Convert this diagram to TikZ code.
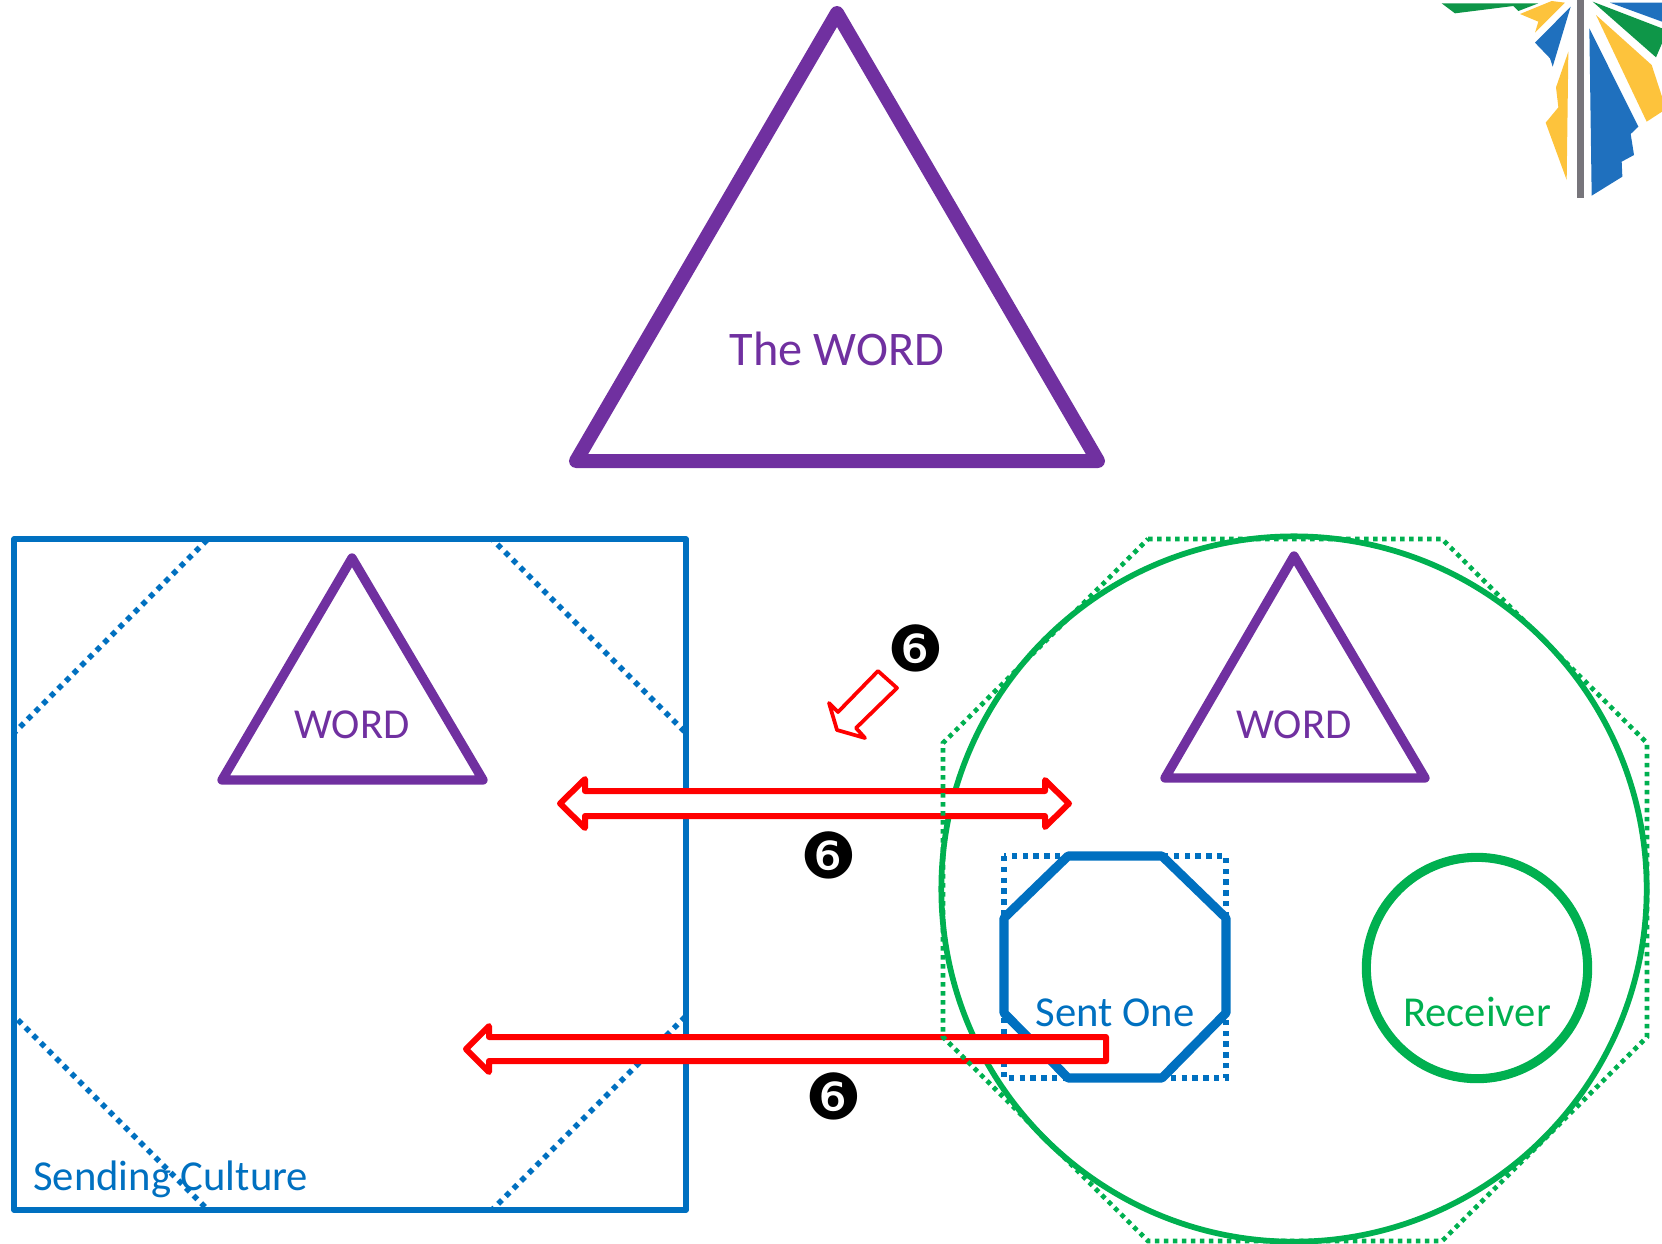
\documentclass[tikz,border=0pt]{standalone}
\usepackage{fontspec}
\setmainfont{Carlito}
\newfontfamily\dingfont{DejaVu Sans}
\definecolor{wpurple}{HTML}{7030A0}
\definecolor{wblue}{HTML}{0070C0}
\definecolor{wgreen}{HTML}{00B050}
\definecolor{wred}{HTML}{FF0000}
\definecolor{lgreen}{HTML}{0E9648}
\definecolor{lyellow}{HTML}{FDC33C}
\definecolor{lblue}{HTML}{1F70BE}
\definecolor{lgray}{HTML}{77757B}
\tikzset{
  trilarge/.style={draw=wpurple,line width=10.5pt,line join=round},
  trismall/.style={draw=wpurple,line width=7pt,line join=round},
  bluesolid/.style={draw=wblue,line width=4.3pt,line join=round},
  bluedots/.style={draw=wblue,line width=4.2pt,dash pattern=on 4pt off 4.1pt},
  sentoct/.style={draw=wblue,line width=6.8pt,line join=round},
  greensolid/.style={draw=wgreen,line width=4.3pt},
  greendots/.style={draw=wgreen,line width=3.5pt,dash pattern=on 3.4pt off 3.35pt},
  recvcircle/.style={draw=wgreen,line width=6.8pt},
  blockarrow/.style={draw=wred,fill=white,line width=4.5pt,line join=round},
  thinarrow/.style={draw=wred,fill=white,line width=2.8pt,line join=round},
  lbl/.style={inner sep=0pt,anchor=base,font=\fontsize{32pt}{36pt}\selectfont},
  num/.style={inner sep=0pt,text=black,font=\dingfont\fontsize{47.5pt}{47.5pt}\selectfont}
}
\begin{document}
\begin{tikzpicture}[x=.75pt,y=-.75pt]
\useasboundingbox (0,0) rectangle (1662,1243);
% logo
\begin{scope}[shift={(1420,0)},x=.25pt,y=-.25pt]
\fill[lgreen] (65,10)--(105,40)--(280,18)--(295,33)--(355,10)--cycle;
\fill[lyellow] (300,42)--(395,3)--(435,8)--(345,98)--(355,65)--cycle;
\fill[lblue] (452,20)--(398,200)--(390,175)--(345,128)--cycle;
\fill[lyellow] (445,155)--(440,540)--(377,368)--(415,322)--(408,262)--cycle;
\fill[lgray] (472,0) rectangle (492,593);
\fill[lblue] (508,85)--(655,380)--(632,402)--(642,465)--(605,485)--(607,530)--(515,587)--cycle;
\fill[lyellow] (528,45)--(695,195)--(726,290)--(726,335)--(680,365)--cycle;
\fill[lgreen] (518,5)--(726,85)--(726,130)--(708,172)--cycle;
\fill[lblue] (570,8)--(726,8)--(726,65)--cycle;
\end{scope}
% top triangle
\draw[trilarge] (837,13)--(1098,461)--(576,461)--cycle;
\node[lbl,text=wpurple,font=\fontsize{36.2pt}{40pt}\selectfont] (theword) at (837,365) {The WORD};
% sending culture
\draw[bluesolid] (14,539) rectangle (686,1210);
\draw[bluedots] (208,539)--(492,539)--(686,733)--(686,1016)--(492,1210)--(208,1210)--(14,1016)--(14,733)--cycle;
\draw[trismall] (352,558)--(483,780)--(222,780)--cycle;
\node[lbl,text=wpurple] (wordleft) at (352,738) {WORD};
\node[lbl,text=wblue,anchor=base west] (sending) at (33,1190) {Sending Culture};
% receiving culture
\draw[greensolid] (1294,889) circle[radius=264.5pt];
\draw[trismall] (1294,556)--(1425,778)--(1165,778)--cycle;
\node[lbl,text=wpurple] (wordright) at (1294,738) {WORD};
\draw[bluedots] (1004,856) rectangle (1226,1078);
\draw[sentoct] (1068,856)--(1162,856)--(1226,918)--(1226,1013)--(1162,1078)--(1068,1078)--(1004,1013)--(1004,918)--cycle;
\node[lbl,text=wblue] (sentone) at (1115,1026) {Sent One};
\draw[recvcircle] (1477,968) circle[radius=83pt];
\node[lbl,text=wgreen] (receiver) at (1477,1026) {Receiver};
% arrows
\draw[blockarrow] (560,803.5)--(585,779)--(585,791)--(1045,791)--(1045,780)--(1069,803.5)--(1045,827)--(1045,816)--(585,816)--(585,828)--cycle;
\draw[blockarrow] (1106,1037)--(489,1037)--(489,1026)--(466,1049)--(489,1072)--(489,1061)--(1106,1061)--cycle;
\draw[thinarrow] (878,671)--(897,688)--(856,728)--(865,738)--(837,730)--(829,703)--(838,712)--cycle;
% green dotted octagon over the arrows
\draw[greendots] (1148,539)--(1442,539)--(1647,743)--(1647,1037)--(1442,1241)--(1148,1241)--(943,1037)--(943,743)--cycle;
% numbers
\node[num] (n1) at (916,648) {❻};
\node[num] (n2) at (829,855) {❻};
\node[num] (n3) at (834,1096) {❻};
\end{tikzpicture}
\end{document}
